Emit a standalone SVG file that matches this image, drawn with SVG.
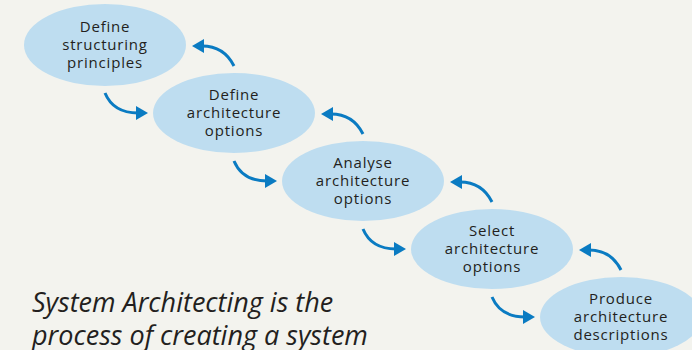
<svg xmlns="http://www.w3.org/2000/svg" width="692" height="350" viewBox="0 0 692 350">
<style>
.bg{fill:#F3F3EE}
.node ellipse{fill:#BEDDF0}
.node text{font-family:"Open Sans","DejaVu Sans",sans-serif;font-size:15px;fill:#231F20;text-anchor:middle;letter-spacing:0.8px}
.conn path{fill:none;stroke:#0A7BC2;stroke-width:3;marker-end:url(#ah)}
.caption{font-family:"Open Sans","DejaVu Sans",sans-serif;font-style:italic;font-size:27px;fill:#231F20}
</style>
<defs>
<marker id="ah" markerUnits="userSpaceOnUse" markerWidth="12" markerHeight="14" refX="2" refY="7" orient="auto" viewBox="0 0 12 14">
<path d="M0,0 L12,7 L0,14 z" fill="#0A7BC2"/>
</marker>
</defs>
<rect class="bg" x="0" y="0" width="692" height="350"/>
<g id="node1" class="node">
<ellipse cx="105" cy="45" rx="81" ry="41"/>
<text x="105" y="32">Define</text>
<text x="105" y="50">structuring</text>
<text x="105" y="68">principles</text>
</g>
<g id="node2" class="node">
<ellipse cx="234" cy="113" rx="81" ry="40"/>
<text x="234" y="100">Define</text>
<text x="234" y="118">architecture</text>
<text x="234" y="136">options</text>
</g>
<g id="node3" class="node">
<ellipse cx="363" cy="181" rx="81" ry="40"/>
<text x="363" y="168">Analyse</text>
<text x="363" y="186">architecture</text>
<text x="363" y="204">options</text>
</g>
<g id="node4" class="node">
<ellipse cx="492" cy="249" rx="81" ry="40"/>
<text x="492" y="236">Select</text>
<text x="492" y="254">architecture</text>
<text x="492" y="272">options</text>
</g>
<g id="node5" class="node">
<ellipse cx="621" cy="317" rx="81" ry="40"/>
<text x="621" y="304">Produce</text>
<text x="621" y="322">architecture</text>
<text x="621" y="340">descriptions</text>
</g>
<g id="connectors" class="conn">
<path d="M105,93 C110,105 120,113 138,113"/>
<path d="M234,66 C228,54 218,46 202,46"/>
<path d="M234,161 C239,173 249,181 267,181"/>
<path d="M363,134 C357,122 347,114 331,114"/>
<path d="M363,229 C368,241 378,249 396,249"/>
<path d="M492,202 C486,190 476,182 460,182"/>
<path d="M492,297 C497,309 507,317 525,317"/>
<path d="M621,270 C615,258 605,250 589,250"/>
</g>
<text class="caption" x="32" y="312">System Architecting is the</text>
<text class="caption" x="32" y="345">process of creating a system</text>
</svg>
